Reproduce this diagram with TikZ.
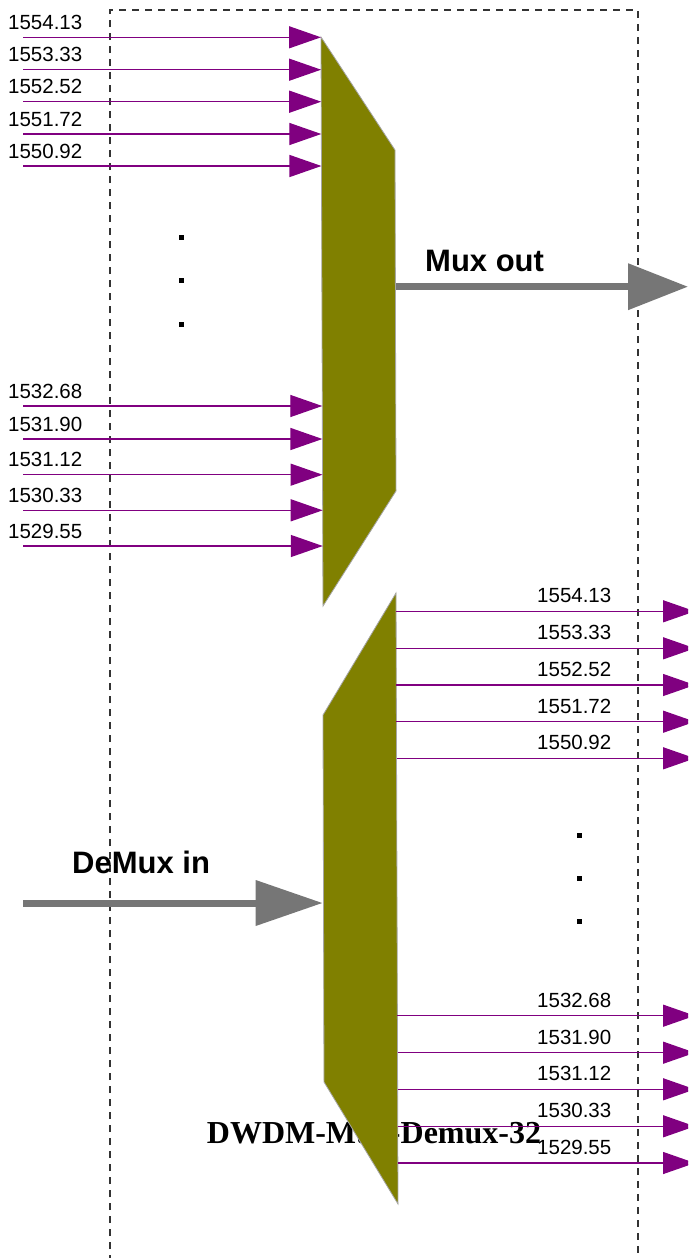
\documentclass[tikz,border=0pt]{standalone}
\usepackage{fontspec}
\setmainfont{Liberation Serif}
\newfontfamily\arialf{Liberation Sans}
\usetikzlibrary{arrows.meta}
\definecolor{olivef}{HTML}{808000}
\definecolor{purp}{HTML}{800080}
\definecolor{grayarrow}{HTML}{767676}
\definecolor{dashgray}{HTML}{333333}
\begin{document}
\begin{tikzpicture}[x=1pt,y=-1pt,
  wl/.style={draw=purp,line width=1.3pt,-{Triangle[length=32pt,width=22pt]}},
  lbl/.style={font=\arialf\fontsize{20.5}{24}\selectfont,inner sep=0pt,anchor=base west},
  bigarrow/.style={draw=grayarrow,line width=7pt,-{Triangle[length=60pt,width=45pt]}},
  bigarrowb/.style={draw=grayarrow,line width=7pt,-{Triangle[length=67pt,width=44pt]}},
  bigl/.style={font=\arialf\bfseries\fontsize{31}{36}\selectfont,inner sep=0pt,anchor=base west},
  dotbox/.style={fill=black,minimum size=5pt,inner sep=0pt,draw=none,rectangle},
  blockf/.style={fill=olivef,draw=gray!70,line width=0.8pt},
]
\useasboundingbox (0,0) rectangle (688,1258);
\clip (0,0) rectangle (688,1258);
% dashed frame
\draw[dashgray,line width=1.1pt,dash pattern=on 7pt off 6pt] (110,1275) -- (110,10) -- (638,10) -- (638,1275);
% title (behind the demux block)
\node[font=\bfseries\fontsize{32}{38}\selectfont,inner sep=0pt,anchor=base] (title) at (374,1143) {DWDM-Mux-Demux-32};
% mux block
\coordinate (m1) at (321,37);
\coordinate (m2) at (395,150);
\coordinate (m3) at (396,491);
\coordinate (m4) at (323,606);
\draw[blockf] (m1) -- (m2) -- (m3) -- (m4) -- cycle;
% demux block
\coordinate (d1) at (396,593);
\coordinate (d2) at (398,1204);
\coordinate (d3) at (324,1082);
\coordinate (d4) at (323,715);
\draw[blockf] (d1) -- (d2) -- (d3) -- (d4) -- cycle;
% mux inputs
\foreach \y/\t [count=\i] in {37.3/1554.13, 69.7/1553.33, 101.7/1552.52, 134/1551.72, 166/1550.92, 406/1532.68, 439/1531.90, 474.7/1531.12, 510.3/1530.33, 546/1529.55} {
  \coordinate (is\i) at (23,\y);
  \coordinate (ie\i) at ({321+2*(\y-37)/569},\y);
  \draw[wl] (is\i) -- (ie\i);
  \node[lbl] (il\i) at (8,\y-8) {\t};
}
% demux outputs
\foreach \y/\t [count=\i] in {611.3/1554.13, 648.3/1553.33, 685/1552.52, 721.7/1551.72, 758.3/1550.92, 1015.7/1532.68, 1052.7/1531.90, 1089.3/1531.12, 1126.3/1530.33, 1163/1529.55} {
  \coordinate (os\i) at ({396+2*(\y-593)/611},\y);
  \coordinate (oe\i) at (695,\y);
  \draw[wl] (os\i) -- (oe\i);
  \node[lbl] (ol\i) at (537,\y-8.5) {\t};
}
% big arrows
\coordinate (mos) at (396,286.7);
\coordinate (moe) at (688,286.7);
\draw[bigarrow] (mos) -- (moe);
\node[bigl] (muxout) at (425,271.7) {Mux out};
\coordinate (dis) at (23,903);
\coordinate (die) at (322.7,903);
\draw[bigarrowb] (dis) -- (die);
\node[bigl] (demuxin) at (72,873) {DeMux in};
% dots
\node[dotbox] (a1) at (181,237.3) {};
\node[dotbox] (a2) at (181,280.7) {};
\node[dotbox] (a3) at (181,324) {};
\node[dotbox] (b1) at (579,835) {};
\node[dotbox] (b2) at (579,878.3) {};
\node[dotbox] (b3) at (579,921) {};
\end{tikzpicture}
\end{document}
